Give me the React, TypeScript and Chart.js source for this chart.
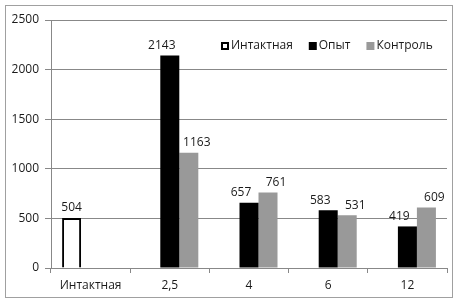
import React, { useEffect, useRef } from "react";
import { Chart, registerables } from "chart.js";

Chart.register(...registerables);

const categories = ["Интактная", "2,5", "4", "6", "12"];
const seriesNames = ["Интактная", "Опыт", "Контроль"];
const intactValues = [504, null, null, null, null];
const experimentValues = [null, 2143, 657, 583, 419];
const controlValues = [null, 1163, 761, 531, 609];
const yMin = 0;
const yMax = 2500;
const yStep = 500;

const FONT = "'Open Sans', 'Liberation Sans', sans-serif";
const labelDx = [0, -8, 8];

const framePlugin = {
  id: "frame",
  beforeDraw(chart: any) {
    const ctx = chart.ctx;
    ctx.save();
    ctx.fillStyle = "#ffffff";
    ctx.fillRect(0, 0, chart.width, chart.height);
    ctx.strokeStyle = "#a0a0a0";
    ctx.lineWidth = 1;
    ctx.strokeRect(5.5, 5.5, 447, 292);
    ctx.restore();
  },
};

const labelPlugin = {
  id: "valueLabels",
  afterDatasetsDraw(chart: any) {
    const ctx = chart.ctx;
    ctx.save();
    ctx.font = `12px ${FONT}`;
    ctx.fillStyle = "#1a1a1a";
    ctx.textAlign = "center";
    ctx.textBaseline = "bottom";
    chart.data.datasets.forEach((ds: any, di: number) => {
      const meta = chart.getDatasetMeta(di);
      meta.data.forEach((el: any, i: number) => {
        const v = ds.data[i];
        if (v === null || v === undefined) return;
        ctx.fillText(String(v), el.x + labelDx[di], el.y - 4);
      });
    });
    ctx.restore();
  },
};

const legendPlugin = {
  id: "insideLegend",
  afterDraw(chart: any) {
    const ctx = chart.ctx;
    ctx.save();
    ctx.font = `12px ${FONT}`;
    ctx.textBaseline = "middle";
    ctx.textAlign = "left";
    let x = 221;
    const yc = 46;
    chart.data.datasets.forEach((ds: any) => {
      const bx = x;
      const by = yc - 4;
      ctx.fillStyle = ds.backgroundColor;
      ctx.fillRect(bx, by, 8, 8);
      if (ds.borderWidth) {
        ctx.strokeStyle = ds.borderColor;
        ctx.lineWidth = 2;
        ctx.strokeRect(bx + 1, by + 1, 6, 6);
      }
      ctx.fillStyle = "#1a1a1a";
      ctx.fillText(ds.label, bx + 10, yc);
      x = bx + 10 + ctx.measureText(ds.label).width + 16;
    });
    ctx.restore();
  },
};

export default function App() {
  const ref = useRef<HTMLCanvasElement | null>(null);
  useEffect(() => {
    if (!ref.current) return;
    Chart.defaults.font.family = FONT;
    Chart.defaults.font.size = 12;
    Chart.defaults.color = "#1a1a1a";
    const chart = new Chart(ref.current, {
      type: "bar",
      data: {
        labels: categories,
        datasets: [
          {
            label: seriesNames[0],
            data: intactValues,
            backgroundColor: "#ffffff",
            borderColor: "#000000",
            borderWidth: 2,
          },
          {
            label: seriesNames[1],
            data: experimentValues,
            backgroundColor: "#000000",
            borderWidth: 0,
          },
          {
            label: seriesNames[2],
            data: controlValues,
            backgroundColor: "#999999",
            borderWidth: 0,
          },
        ] as any,
      },
      options: {
        responsive: false,
        animation: false,
        layout: { padding: { top: 20, right: 11, left: 0, bottom: 0 } },
        datasets: { bar: { categoryPercentage: 0.72, barPercentage: 1 } },
        plugins: {
          legend: { display: false },
          tooltip: { enabled: false },
        },
        scales: {
          x: {
            grid: {
              display: true,
              drawOnChartArea: false,
              drawTicks: true,
              tickLength: 5,
              color: "#888888",
              offset: true,
            },
            border: { color: "#888888" },
            ticks: { padding: 5, font: { size: 12, family: FONT } },
            afterFit: (s: any) => {
              s.height = 35;
            },
          },
          y: {
            min: yMin,
            max: yMax,
            ticks: {
              stepSize: yStep,
              padding: 6,
              font: { size: 12, family: FONT },
              callback: (v: any) => String(v),
            },
            grid: { color: "#888888", tickLength: 6 },
            border: { color: "#888888" },
            afterFit: (s: any) => {
              s.width = 51;
            },
          },
        },
      },
      plugins: [framePlugin, labelPlugin, legendPlugin],
    });
    return () => chart.destroy();
  }, []);
  return (
    <div style={{ position: "absolute", left: 0, top: 0, width: 458, height: 303 }}>
      <canvas ref={ref} width={458} height={303} style={{ display: "block" }} />
    </div>
  );
}
